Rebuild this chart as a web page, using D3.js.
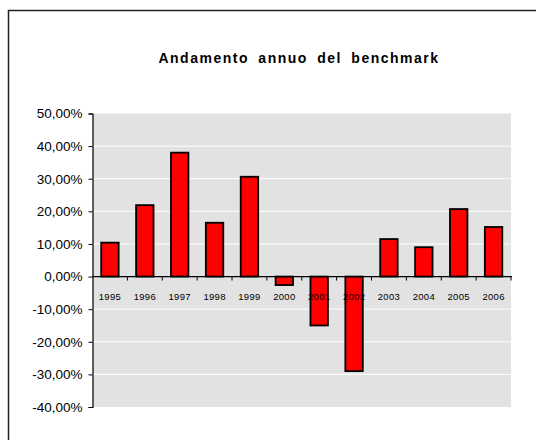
<!DOCTYPE html>
<html>
<head>
<meta charset="utf-8">
<script src="https://cdn.jsdelivr.net/npm/d3@7"></script>
<style>
  body { margin: 0; background: #fff; }
  svg { display: block; font-family: "Liberation Sans", Arial, sans-serif; }
</style>
</head>
<body>
<div id="chart"></div>
<script>
// Data
const years = ["1995", "1996", "1997", "1998", "1999", "2000",
               "2001", "2002", "2003", "2004", "2005", "2006"];
const returns = [10.4, 21.9, 38.0, 16.5, 30.6, -2.6, -15.0, -29.0, 11.5, 9.0, 20.7, 15.2];
const yTicks = [50, 40, 30, 20, 10, 0, -10, -20, -30, -40];
const chartTitle = "Andamento annuo del benchmark";

// Sizes
const W = 536, H = 440;
const plot = { left: 92.5, right: 511, top: 113.5, bottom: 407 };

const svg = d3.select("#chart").append("svg")
  .attr("width", W)
  .attr("height", H);

// Outer frame (runs off the right and bottom edges)
svg.append("rect")
  .attr("x", 8.5).attr("y", 10.5)
  .attr("width", 540).attr("height", 440)
  .attr("fill", "none")
  .attr("stroke", "#222")
  .attr("stroke-width", 1.5);

// Title
svg.append("text")
  .attr("x", 299).attr("y", 63)
  .attr("text-anchor", "middle")
  .attr("font-size", 14)
  .attr("font-weight", "bold")
  .attr("letter-spacing", 1.5)
  .attr("word-spacing", 4)
  .attr("fill", "#000")
  .text(chartTitle);

// Scales
const x = d3.scaleBand()
  .domain(years)
  .range([plot.left, plot.right])
  .paddingInner(0.5)
  .paddingOuter(0.25);

const xBound = d3.scaleLinear()
  .domain([0, years.length])
  .range([plot.left, plot.right]);

const y = d3.scaleLinear()
  .domain([-40, 50])
  .range([plot.bottom, plot.top]);

// Plot background
svg.append("rect")
  .attr("x", plot.left).attr("y", plot.top)
  .attr("width", plot.right - plot.left)
  .attr("height", plot.bottom - plot.top)
  .attr("fill", "#e2e2e2");

// Gridlines
svg.selectAll(".grid")
  .data(yTicks.filter(t => t !== 50 && t !== -40 && t !== 0))
  .enter()
  .append("line")
  .attr("x1", plot.left).attr("x2", plot.right)
  .attr("y1", d => y(d)).attr("y2", d => y(d))
  .attr("stroke", "#fff")
  .attr("stroke-width", 1);

// Bars
svg.selectAll(".bar")
  .data(years)
  .enter()
  .append("rect")
  .attr("x", d => x(d))
  .attr("y", (d, i) => y(Math.max(0, returns[i])))
  .attr("width", x.bandwidth())
  .attr("height", (d, i) => Math.abs(y(returns[i]) - y(0)))
  .attr("fill", "#ff0000")
  .attr("stroke", "#000")
  .attr("stroke-width", 1.8);

// Y axis (hyphen minus, comma decimals)
const pct = d => (d < 0 ? "-" : "") + Math.abs(d).toFixed(2).replace(".", ",") + "%";

const yAxis = d3.axisLeft(y)
  .tickValues(yTicks)
  .tickSize(4)
  .tickPadding(6)
  .tickFormat(pct);

const yG = svg.append("g")
  .attr("transform", "translate(" + plot.left + ",0)")
  .call(yAxis);
yG.select(".domain").attr("stroke", "#000").attr("stroke-width", 1.2);
yG.selectAll(".tick line").attr("stroke", "#000");
yG.selectAll("text")
  .attr("font-size", 13.5)
  .attr("font-family", "Liberation Sans, Arial, sans-serif")
  .attr("fill", "#000");

// X axis at zero: line + boundary ticks
svg.append("line")
  .attr("x1", plot.left).attr("x2", plot.right + 1)
  .attr("y1", y(0)).attr("y2", y(0))
  .attr("stroke", "#000")
  .attr("stroke-width", 1.2);

svg.selectAll(".xtick")
  .data(d3.range(1, years.length + 1))
  .enter()
  .append("line")
  .attr("x1", d => xBound(d)).attr("x2", d => xBound(d))
  .attr("y1", y(0)).attr("y2", y(0) + 4)
  .attr("stroke", "#000");

svg.selectAll(".xlabel")
  .data(years)
  .enter()
  .append("text")
  .attr("x", d => x(d) + x.bandwidth() / 2)
  .attr("y", y(0) + 23)
  .attr("text-anchor", "middle")
  .attr("font-size", 9.5)
  .attr("letter-spacing", 0.3)
  .attr("fill", "#000")
  .text(d => d);
</script>
</body>
</html>
